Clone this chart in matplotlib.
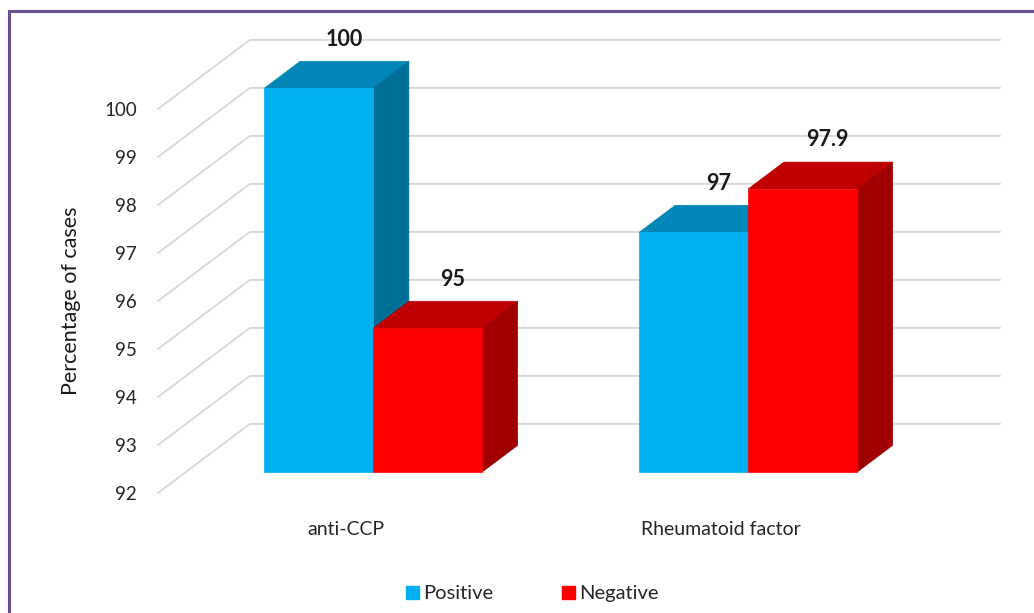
import matplotlib.pyplot as plt
from matplotlib.patches import Polygon, Patch
from matplotlib.lines import Line2D

plt.rcParams['font.family'] = ['Lato', 'DejaVu Sans']

categories = ["anti-CCP", "Rheumatoid factor"]
positive = [100, 97]
negative = [95, 97.9]
series = ["Positive", "Negative"]
yticks = list(range(92, 101))

# colours: front, top, side
colors = [("#00B0F0", "#0087B8", "#006F97"),
          ("#FF0000", "#C00000", "#A00000")]

W, H = 1034, 613
fig = plt.figure(figsize=(W / 100, H / 100), dpi=100)
ax = fig.add_axes([158 / W, (H - 493) / H, 750 / W, 384 / H])
ax.set_xlim(0, 2)
ax.set_ylim(92, 100)

# fake 3d depth (full depth of the plot, in data units)
DX, DY = 0.245, 1.44
d0, d1 = 0.30, 0.69
w = 0.29
bdx, bdy = (d1 - d0) * DX, (d1 - d0) * DY
base = yticks[0]

# side wall + back wall gridlines
for v in yticks:
    ax.plot([0, DX, 2 + DX], [v, v + DY, v + DY], color="#D9D9D9",
            lw=1.4, clip_on=False, zorder=0)

for i in range(len(categories)):
    for j, vals in enumerate([positive, negative]):
        v = vals[i]
        front, top, side = colors[j]
        xl = i + 0.5 + (j - 1) * w + d0 * DX
        vb = base + d0 * DY
        vt = v + d0 * DY
        ax.add_patch(Polygon([(xl, vt), (xl + w, vt), (xl + w + bdx, vt + bdy),
                              (xl + bdx, vt + bdy)], closed=True, fc=top,
                             ec=top, lw=0.5, clip_on=False, zorder=2))
        ax.add_patch(Polygon([(xl + w, vb), (xl + w + bdx, vb + bdy),
                              (xl + w + bdx, vt + bdy), (xl + w, vt)], closed=True,
                             fc=side, ec=side, lw=0.5, clip_on=False, zorder=2))
        bars = ax.bar(xl, v - base, width=w, bottom=vb, align="edge",
                      color=front, edgecolor=front, lw=0.5, zorder=3)
        for b in bars:
            b.set_clip_on(False)
        ax.annotate(f"{v:g}", xy=(xl + w / 2 + bdx * 0.7, vt + bdy),
                    xytext=(0, 16), textcoords="offset points", ha="center",
                    va="center", fontsize=15.5, fontweight="bold", color="#1a1a1a",
                    annotation_clip=False)

for s in ax.spines.values():
    s.set_visible(False)
ax.set_yticks(yticks)
ax.set_xticks([0.5, 1.5])
ax.set_xticklabels(categories)
ax.tick_params(axis="y", length=0, pad=15, labelsize=13.5, labelcolor="#262626")
ax.tick_params(axis="x", length=0, pad=20, labelsize=14, labelcolor="#262626")
ax.set_ylabel("Percentage of cases", fontsize=15.5, color="#1a1a1a")
ax.yaxis.set_label_coords(-0.103, 0.5)

handles = [Patch(color=colors[k][0]) for k in range(2)]
fig.legend(handles, series, loc="center", bbox_to_anchor=(0.515, 0.031), ncol=2,
           frameon=False, fontsize=14.5, handlelength=0.65, handleheight=0.65,
           handletextpad=0.2, columnspacing=3.4, labelcolor="#262626")

# border
border = "#6A5093"
fig.add_artist(Line2D([9 / W, 1], [1 - 11 / H, 1 - 11 / H], color=border, lw=2.2,
                      transform=fig.transFigure))
fig.add_artist(Line2D([9 / W, 9 / W], [0, 1 - 11 / H], color=border, lw=2.2,
                      transform=fig.transFigure))

fig.savefig("out.png", dpi=100)
